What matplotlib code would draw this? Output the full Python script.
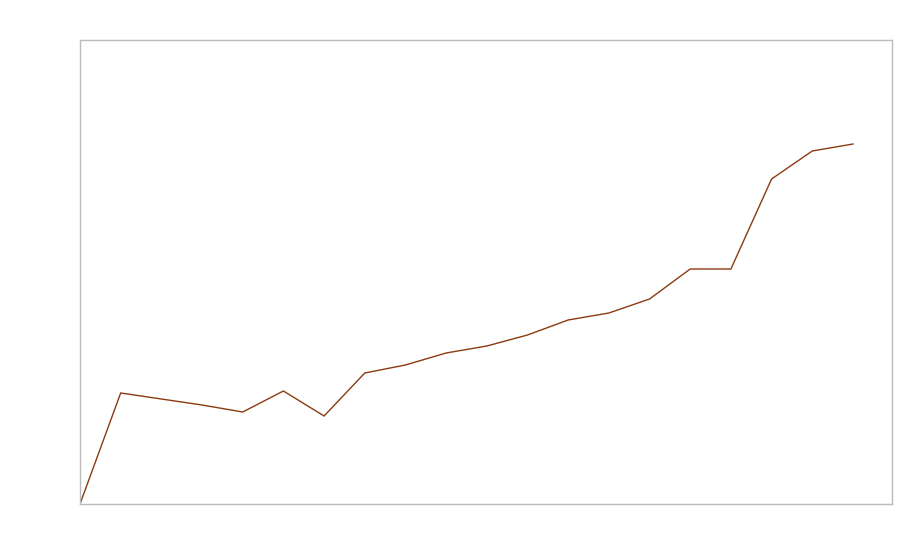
import matplotlib
matplotlib.use("Agg")
import matplotlib.pyplot as plt

x_index = list(range(20))
values = [0, 111, 105, 99, 92, 113, 88, 131, 139, 151, 158, 169, 184, 191, 205, 235, 235, 325, 353, 360]

fig = plt.figure(figsize=(9, 5.6), dpi=100)
ax = fig.add_axes([80/900, 56/560, 812/900, 464/560])
ax.plot(x_index, values, color="#8B3A10", linewidth=1.0, solid_joinstyle="miter")
ax.set_xlim(0, 19.96)
ax.set_ylim(0, 464)
ax.set_xticks([])
ax.set_yticks([])
for s in ax.spines.values():
    s.set_color("#bbbbbb")
    s.set_linewidth(1.0)
fig.savefig("out.png", dpi=100)
